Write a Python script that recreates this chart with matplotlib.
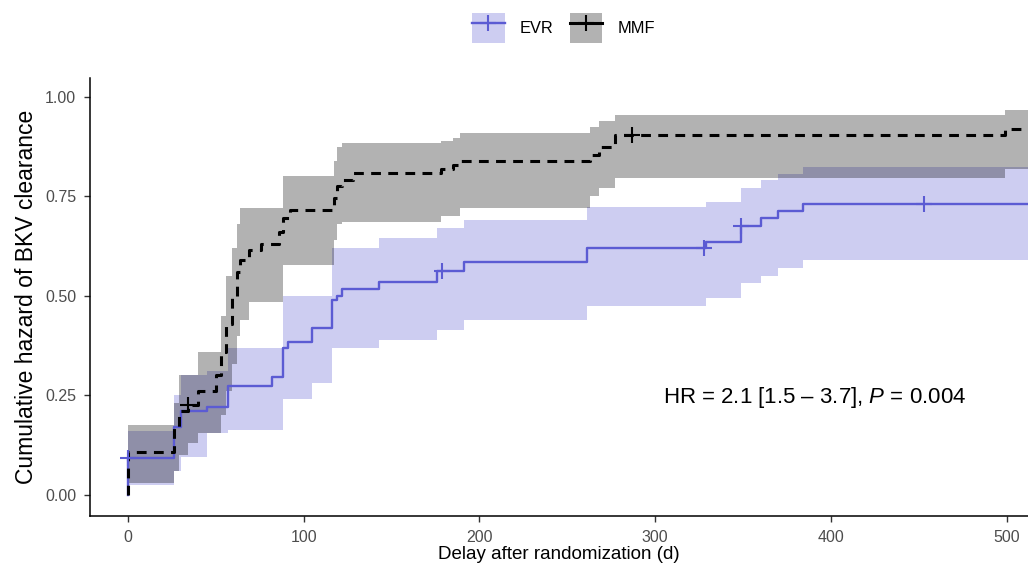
import numpy as np
import matplotlib.pyplot as plt
from matplotlib.lines import Line2D
from matplotlib.patches import Patch

plt.rcParams['font.family'] = ['Liberation Sans', 'DejaVu Sans']
plt.rcParams['mathtext.fontset'] = 'custom'
plt.rcParams['mathtext.it'] = 'Liberation Sans:italic'
plt.rcParams['mathtext.rm'] = 'Liberation Sans'

# EVR arm: event times (d), cumulative hazard and 95% CI
evr_t = [0, 26, 30, 45, 57, 82, 88, 91, 105, 116, 119, 122, 143, 176, 191, 261, 329, 349, 360, 370, 384]
evr_est = [0.093, 0.17, 0.21, 0.222, 0.274, 0.295, 0.37, 0.385, 0.42, 0.49, 0.50, 0.517, 0.535, 0.563,
           0.585, 0.62, 0.636, 0.676, 0.695, 0.713, 0.731]
evr_lo = [0.025, 0.06, 0.095, 0.155, 0.163, 0.163, 0.24, 0.24, 0.28, 0.37, 0.37, 0.37, 0.39, 0.415,
          0.44, 0.475, 0.495, 0.533, 0.55, 0.57, 0.59]
evr_hi = [0.16, 0.25, 0.30, 0.31, 0.37, 0.37, 0.50, 0.50, 0.50, 0.62, 0.62, 0.62, 0.645, 0.67,
          0.69, 0.724, 0.736, 0.77, 0.79, 0.806, 0.824]
evr_cens_t = [0, 179, 328, 349, 453]

# MMF arm
mmf_t = [0, 26, 29, 34, 40, 50, 53, 56, 59, 62, 64, 69, 76, 86, 88, 92, 117, 119, 122, 128,
         178, 185, 189, 263, 268, 277, 499]
mmf_est = [0.108, 0.17, 0.21, 0.225, 0.26, 0.30, 0.36, 0.43, 0.50, 0.56, 0.59, 0.615, 0.63, 0.66,
           0.695, 0.716, 0.745, 0.775, 0.79, 0.81, 0.82, 0.83, 0.84, 0.855, 0.875, 0.905, 0.92]
mmf_lo = [0.03, 0.06, 0.10, 0.13, 0.155, 0.155, 0.20, 0.26, 0.33, 0.40, 0.44, 0.485, 0.485, 0.485,
          0.578, 0.578, 0.64, 0.68, 0.686, 0.686, 0.70, 0.70, 0.72, 0.75, 0.77, 0.796, 0.82]
mmf_hi = [0.176, 0.23, 0.30, 0.30, 0.36, 0.36, 0.45, 0.55, 0.62, 0.68, 0.72, 0.72, 0.72, 0.72,
          0.80, 0.80, 0.84, 0.875, 0.885, 0.885, 0.89, 0.897, 0.91, 0.925, 0.94, 0.955, 0.967]
mmf_cens_t = [34, 287]

t_end = 515
blue = '#5B5BD3'
black = '#000000'

fig = plt.figure(figsize=(10.28, 5.72), dpi=100)
ax = fig.add_axes([0.0875, 0.098, 0.9125, 0.766])


def extend(t, v):
    return np.r_[t, t_end], np.r_[v, v[-1]]


def value_at(t, v, x):
    idx = np.searchsorted(t, x, side='right') - 1
    return np.asarray(v)[idx]


# confidence bands
for t, lo, hi, col in [(evr_t, evr_lo, evr_hi, blue), (mmf_t, mmf_lo, mmf_hi, black)]:
    tt, ll = extend(t, lo)
    _, hh = extend(t, hi)
    ax.fill_between(tt, ll, hh, step='post', color=col, alpha=0.3, lw=0)

# step curves
tt, ee = extend(evr_t, evr_est)
ax.plot(np.r_[0, tt], np.r_[0, ee], drawstyle='steps-post', color=blue, lw=1.7)
tt, ee = extend(mmf_t, mmf_est)
ax.plot(np.r_[0, tt], np.r_[0, ee], drawstyle='steps-post', color=black, lw=2.2,
        linestyle=(0, (3.2, 2.4)))

# censoring marks
ax.plot(evr_cens_t, value_at(evr_t, evr_est, evr_cens_t), '+', color=blue, ms=11, mew=1.5)
ax.plot(mmf_cens_t, value_at(mmf_t, mmf_est, mmf_cens_t), '+', color=black, ms=11, mew=1.5)

ax.text(391, 0.244, r'HR = 2.1 [1.5 – 3.7], $\mathit{P}$ = 0.004', ha='center', va='center',
        fontsize=16)

ax.set_xlim(-21.6, 512.2)
ax.set_ylim(-0.053, 1.048)
ax.set_xticks([0, 100, 200, 300, 400, 500])
ax.set_yticks([0, 0.25, 0.5, 0.75, 1.0])
ax.set_yticklabels(['0.00', '0.25', '0.50', '0.75', '1.00'])
ax.tick_params(labelsize=11.5, labelcolor='#4D4D4D', length=4, width=1, color='#333333', pad=6)
for s in ['top', 'right']:
    ax.spines[s].set_visible(False)
for s in ['left', 'bottom']:
    ax.spines[s].set_linewidth(1.1)
ax.set_xlabel('Delay after randomization (d)', fontsize=13.5, labelpad=1)
ax.set_ylabel('Cumulative hazard of BKV clearance', fontsize=16.5, labelpad=5)

handles = [
    (Patch(facecolor=blue, alpha=0.3, lw=0), Line2D([], [], color=blue, lw=1.7, marker='+', ms=12, mew=1.5)),
    (Patch(facecolor=black, alpha=0.3, lw=0), Line2D([], [], color=black, lw=2.2, marker='+', ms=12, mew=1.5)),
]
fig.legend(handles, ['EVR', 'MMF'], loc='center', bbox_to_anchor=(0.548, 0.951), ncol=2,
           frameon=False, fontsize=11.8, handlelength=2.0, handleheight=2.5,
           handletextpad=0.9, columnspacing=1.0)

fig.savefig('out.png', dpi=100)
